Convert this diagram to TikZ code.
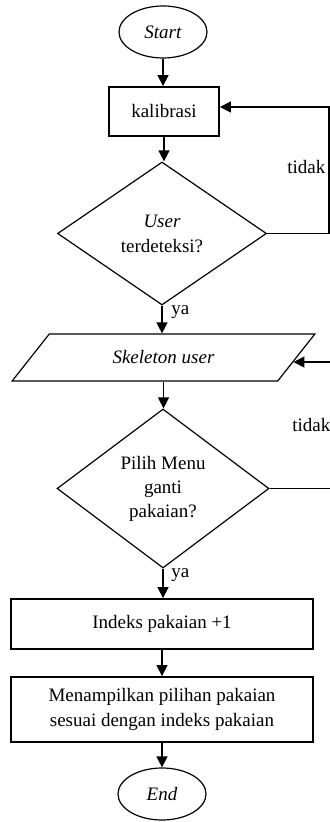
\documentclass[tikz,border=0pt]{standalone}
\usepackage{fontspec}
\setmainfont{Liberation Serif}
\usetikzlibrary{shapes.geometric,arrows.meta}
\begin{document}
\begin{tikzpicture}[x=0.5pt,y=-0.5pt,
 every node/.style={font=\fontsize{9.5}{12.5}\selectfont, inner sep=0pt, align=center},
 term/.style={ellipse,draw,line width=0.6pt,minimum width=44pt,minimum height=26pt},
 proc/.style={rectangle,draw,line width=0.9pt},
 dec/.style={diamond,draw,line width=0.6pt},
 io/.style={trapezium,trapezium left angle=39,trapezium right angle=141,trapezium stretches=true,draw,line width=0.6pt,minimum width=151.5pt,minimum height=23.5pt},
 arr/.style={line width=0.7pt,-{Triangle[length=5.5pt,width=5.5pt]}},
 lbl/.style={anchor=west}]
\useasboundingbox (0,0) rectangle (330,822);
\node[term] (start) at (163,32) {\textit{Start}};
\node[proc,minimum width=55pt,minimum height=24.5pt] (kal) at (164,111.5) {kalibrasi};
\node[dec,minimum width=104.5pt,minimum height=71.5pt] (d1) at (162,233.5) {\textit{User}\\terdeteksi?};
\node[io] (skel) at (163.5,357.5) {\textit{Skeleton user}};
\node[dec,minimum width=106pt,minimum height=79.5pt,font=\fontsize{9.5}{12}\selectfont] (d2) at (163,488.5) {Pilih Menu\\ganti\\pakaian?};
\node[proc,minimum width=151pt,minimum height=25pt] (idx) at (162,624) {Indeks pakaian +1};
\node[proc,minimum width=151pt,minimum height=32.5pt] (show) at (162,709.5) {Menampilkan pilihan pakaian\\sesuai dengan indeks pakaian};
\node[term] (end) at (162,794) {\textit{End}};
\node[lbl] (t1) at (287,167) {tidak};
\node[lbl] (t2) at (292,425) {tidak};
\node[lbl] (y1) at (171,312) {ya};
\node[lbl] (y2) at (171,575) {ya};
\coordinate (r1) at (329,107);
\coordinate (r2) at (332,362);
\draw[arr] (start.south) -- (start.south |- kal.north);
\draw[arr] (kal.south) -- (kal.south |- d1.north);
\draw[arr] (d1.south) -- (d1.south |- skel.north);
\draw[arr] (skel.south) -- (skel.south |- d2.north);
\draw[arr] (d2.south) -- (d2.south |- idx.north);
\draw[arr] (idx.south) -- (idx.south |- show.north);
\draw[arr] (show.south) -- (show.south |- end.north);
\draw[arr] (d1.east) -- (d1.east -| r1) -- (r1) -- (r1 -| kal.east);
\draw[arr] (d2.east) -- (d2.east -| r2) -- (r2 |- skel.-2.2) -- (skel.-2.2);
\end{tikzpicture}
\end{document}
